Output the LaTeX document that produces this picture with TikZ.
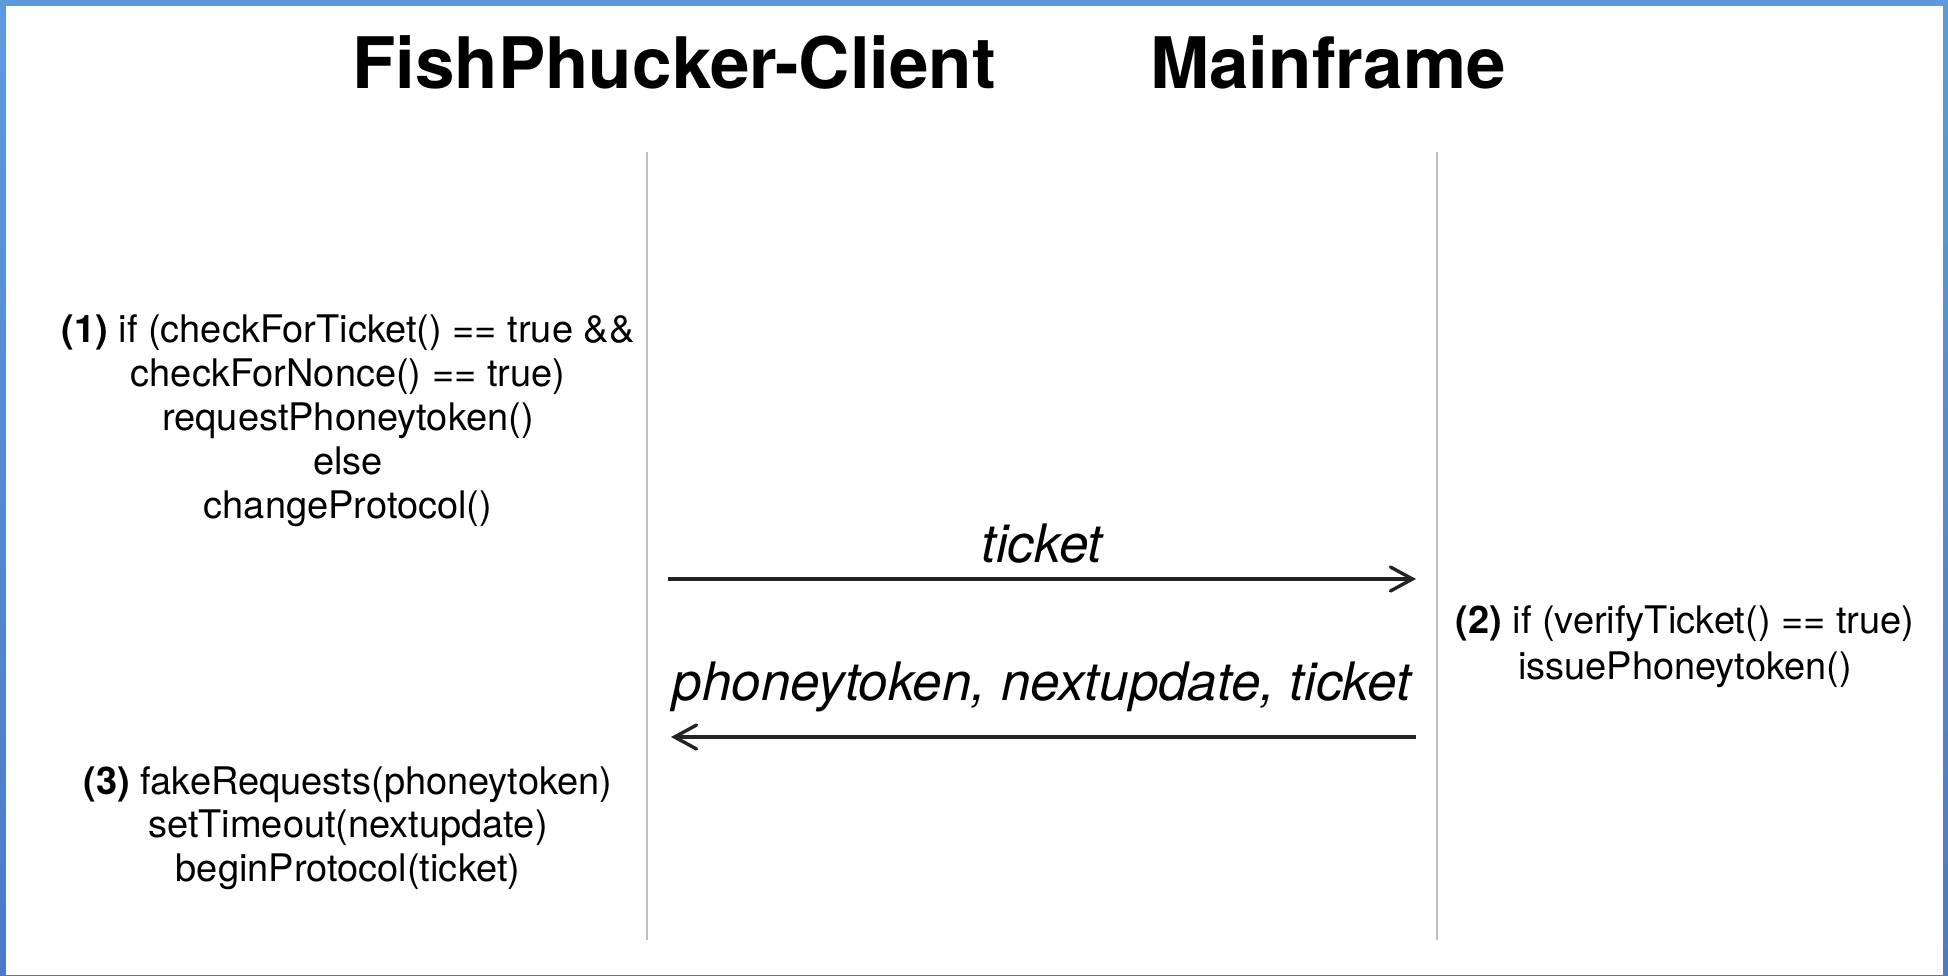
\documentclass[tikz,border=0pt]{standalone}
\usepackage{fontspec}
\setmainfont{TeX Gyre Heros}
\usetikzlibrary{arrows.meta}
\definecolor{bordertop}{RGB}{92,154,222}
\definecolor{borderbot}{RGB}{74,122,202}
\definecolor{lifegray}{RGB}{192,192,192}
\definecolor{msgline}{RGB}{35,35,35}
\begin{document}
\begin{tikzpicture}[x=0.5pt,y=-0.5pt,
  body/.style={inner sep=0pt, anchor=base, font=\fontsize{19pt}{22pt}\selectfont},
  titletext/.style={inner sep=0pt, anchor=base, font=\fontsize{35.5pt}{40pt}\selectfont\bfseries},
  msglabel/.style={inner sep=0pt, anchor=base, font=\fontsize{26.5pt}{30pt}\selectfont\itshape},
  lifeline/.style={draw=lifegray, line width=1.3pt},
  message/.style={draw=msgline, line width=1.7pt, line join=round, -{Straight Barb[length=11pt,width=12pt,line cap=round]}}]
\useasboundingbox (0,0) rectangle (1948,975);
% frame
\shade[top color=bordertop, bottom color=borderbot] (0,0) rectangle (1948,975);
\fill[white] (6,6) rectangle (1943,975);
% titles
\node[titletext] (client) at (674,88) {FishPhucker-Client};
\node[titletext] (mainframe) at (1328,88) {Mainframe};
% lifelines
\coordinate (cTop) at (647,152);
\coordinate (cBot) at (647,940);
\coordinate (mTop) at (1437,152);
\coordinate (mBot) at (1437,940);
\draw[lifeline] (cTop) -- (cBot);
\draw[lifeline] (mTop) -- (mBot);
% messages
\coordinate (c1) at (668,579);
\coordinate (m1) at (1416,579);
\coordinate (m2) at (1416,737);
\coordinate (c2) at (671,737);
\draw[message] (c1) -- (m1);
\draw[message] (m2) -- (c2);
\node[msglabel] (ticketlbl) at (1042,562) {ticket};
\node[msglabel] (replylbl) at (1042,700) {phoneytoken, nextupdate, ticket};
% block 1
\node[body] (s1a) at (348,342) {\textbf{(1)} if (checkForTicket() == true \&\&};
\node[body] (s1b) at (348,386) {checkForNonce() == true)};
\node[body] (s1c) at (348,430) {requestPhoneytoken()};
\node[body] (s1d) at (348,474) {else};
\node[body] (s1e) at (348,518) {changeProtocol()};
% block 2
\node[body] (s2a) at (1685,633) {\textbf{(2)} if (verifyTicket() == true)};
\node[body] (s2b) at (1685,679) {issuePhoneytoken()};
% block 3
\node[body] (s3a) at (348,794) {\textbf{(3)} fakeRequests(phoneytoken)};
\node[body] (s3b) at (348,837) {setTimeout(nextupdate)};
\node[body] (s3c) at (348,881) {beginProtocol(ticket)};
\end{tikzpicture}
\end{document}
